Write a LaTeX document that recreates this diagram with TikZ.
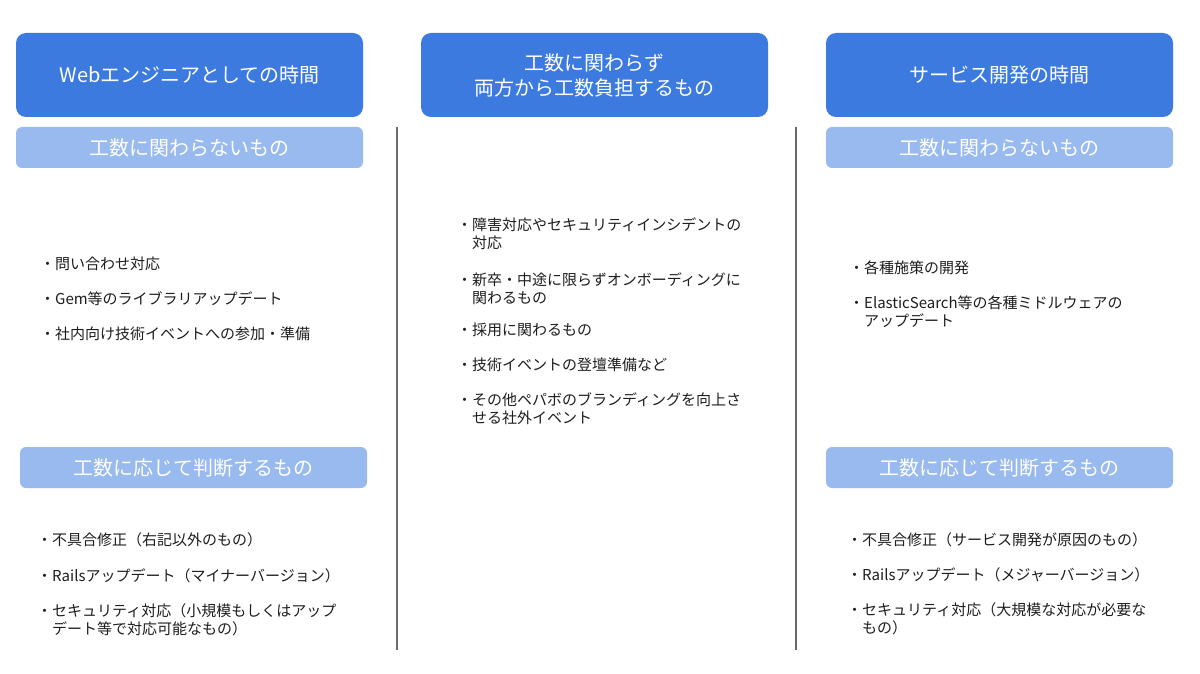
\documentclass[tikz,border=0pt]{standalone}
\usepackage{fontspec}
\setmainfont{Noto Sans CJK JP}
\definecolor{headblue}{HTML}{3C7AE0}
\definecolor{subblue}{HTML}{99BAEF}
\definecolor{itemtext}{HTML}{1E1E1E}
\definecolor{linegray}{HTML}{6A6A6A}
\tikzset{
  headbox/.style={fill=headblue, rounded corners=10pt, minimum width=347pt, minimum height=84pt,
    text=white, font=\fontsize{20}{25}\selectfont, align=center, inner sep=0pt},
  subbox/.style={fill=subblue, rounded corners=6pt, minimum width=347pt, minimum height=41pt,
    text=white, font=\fontsize{20}{24}\selectfont, inner sep=0pt},
  itemtxt/.style={anchor=base west, inner sep=0pt, align=left, text=itemtext,
    font=\fontsize{15}{18}\selectfont},
  divider/.style={draw=linegray, line width=1.3pt}
}
\begin{document}
\begin{tikzpicture}[x=1pt,y=-1pt]
\fill[white] (0,0) rectangle (1200,674);
\useasboundingbox (0,0) rectangle (1200,674);

% headers
\node[headbox] (hL) at (189.5,75) {Webエンジニアとしての時間};
\node[headbox] (hM) at (594.5,75) {工数に関わらず\\両方から工数負担するもの};
\node[headbox] (hR) at (999.5,75) {サービス開発の時間};

% sub headers
\node[subbox] (sL1) at (189.5,147.5) {工数に関わらないもの};
\node[subbox] (sR1) at (999.5,147.5) {工数に関わらないもの};
\node[subbox] (sL2) at (193.5,467.5) {工数に応じて判断するもの};
\node[subbox] (sR2) at (999.5,467.5) {工数に応じて判断するもの};

% dividers
\coordinate (d1t) at (397,127); \coordinate (d1b) at (397,650);
\coordinate (d2t) at (796,127); \coordinate (d2b) at (796,650);
\draw[divider] (d1t) -- (d1b);
\draw[divider] (d2t) -- (d2b);

% left top items
\node[itemtxt] (l1) at (40,269.7) {・問い合わせ対応};
\node[itemtxt] (l2) at (40,304.7) {・Gem等のライブラリアップデート};
\node[itemtxt] (l3) at (40,339.7) {・社内向け技術イベントへの参加・準備};

% left bottom items (multi-line nodes: base = last line)
\node[itemtxt] (l4) at (37,545.7) {・不具合修正（右記以外のもの）};
\node[itemtxt] (l5) at (37,581.7) {・Railsアップデート（マイナーバージョン）};
\node[itemtxt] (l6) at (37,634.7) {・セキュリティ対応（小規模もしくはアップ\\\hspace*{1em}デート等で対応可能なもの）};

% middle items
\node[itemtxt] (m1) at (457,248.7) {・障害対応やセキュリティインシデントの\\\hspace*{1em}対応};
\node[itemtxt] (m2) at (457,303.7) {・新卒・中途に限らずオンボーディングに\\\hspace*{1em}関わるもの};
\node[itemtxt] (m3) at (457,335.7) {・採用に関わるもの};
\node[itemtxt] (m4) at (457,370.7) {・技術イベントの登壇準備など};
\node[itemtxt] (m5) at (457,423.7) {・その他ペパボのブランディングを向上さ\\\hspace*{1em}せる社外イベント};

% right top items
\node[itemtxt] (r1) at (849,273.7) {・各種施策の開発};
\node[itemtxt] (r2) at (849,326.7) {・ElasticSearch等の各種ミドルウェアの\\\hspace*{1em}アップデート};

% right bottom items
\node[itemtxt] (r3) at (847,545.7) {・不具合修正（サービス開発が原因のもの）};
\node[itemtxt] (r4) at (847,580.7) {・Railsアップデート（メジャーバージョン）};
\node[itemtxt] (r5) at (847,633.7) {・セキュリティ対応（大規模な対応が必要な\\\hspace*{1em}もの）};
\end{tikzpicture}
\end{document}
